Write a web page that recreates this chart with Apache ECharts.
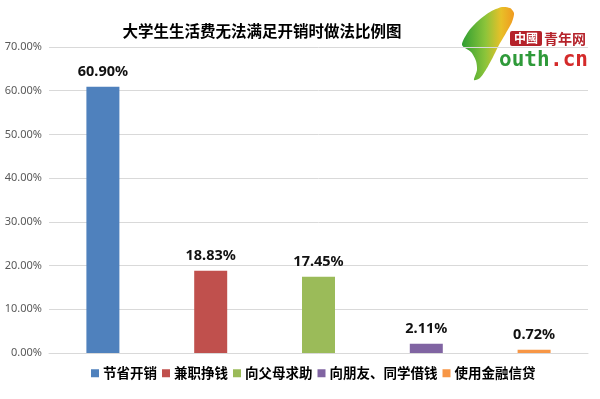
<!DOCTYPE html>
<html>
<head>
<meta charset="utf-8">
<script src="https://cdn.jsdelivr.net/npm/echarts@6/dist/echarts.min.js"></script>
<style>
  html, body { margin: 0; padding: 0; background: #fff; }
  #chart { width: 600px; height: 399px; }
</style>
</head>
<body>
<div id="chart"></div>
<script>
// 数据
var categories = ["节省开销", "兼职挣钱", "向父母求助", "向朋友、同学借钱", "使用金融信贷"];
var values = [60.90, 18.83, 17.45, 2.11, 0.72];
var colors = ["#4f81bd", "#c0504d", "#9bbb59", "#8064a2", "#f79646"];
var yTicks = [0, 10, 20, 30, 40, 50, 60, 70];

var chart = echarts.init(document.getElementById("chart"));
var font = "'Noto Sans', 'Noto Sans CJK SC', sans-serif";

// 每个类别一个系列，这样图例能显示各自颜色
var series = categories.map(function (name, i) {
  return {
    name: name,
    type: "bar",
    barWidth: 33,
    barGap: "-100%",
    itemStyle: { color: colors[i] },
    label: {
      show: true,
      position: "top",
      distance: 8,
      formatter: function (p) { return p.value.toFixed(2) + "%"; },
      color: "#111",
      fontWeight: "bold",
      fontSize: 14.5,
      fontFamily: font
    },
    data: categories.map(function (c, j) { return j === i ? values[i] : "-"; })
  };
});

var options = {
  animation: false,
  title: {
    text: "大学生生活费无法满足开销时做法比例图",
    left: 257,
    textAlign: "center",
    top: 18,
    textStyle: { color: "#000", fontWeight: "bold", fontSize: 15.5, fontFamily: "'Noto Sans CJK SC', sans-serif" }
  },
  grid: { left: 49, right: 12, top: 47, bottom: 46, containLabel: false },
  legend: {
    bottom: 14,
    left: 86,
    icon: "rect",
    itemWidth: 8,
    itemHeight: 8,
    itemGap: 5,
    data: categories,
    textStyle: { color: "#000", fontWeight: "bold", fontSize: 13.5, fontFamily: "'Noto Sans CJK SC', sans-serif", padding: [0, 0, 0, -1] }
  },
  xAxis: {
    type: "category",
    data: categories,
    axisLine: { show: true, lineStyle: { color: "#d9d9d9", width: 1 } },
    axisTick: { show: false },
    axisLabel: { show: false }
  },
  yAxis: {
    type: "value",
    min: yTicks[0],
    max: yTicks[yTicks.length - 1],
    interval: 10,
    axisLine: { show: false },
    axisTick: { show: false },
    axisLabel: {
      margin: 7,
      color: "#595959",
      fontSize: 11,
      fontFamily: font,
      formatter: function (v) { return v.toFixed(2) + "%"; }
    },
    splitLine: { lineStyle: { color: "#d9d9d9" } }
  },
  graphic: [
    {
      // 中国青年网 logo 的银杏叶
      type: "polygon",
      shape: {
        points: [[462, 45], [468, 32], [478, 21], [490, 12], [502, 7], [510, 8], [514, 13],
                 [512, 22], [506, 33], [499, 45], [493, 57], [487, 68], [480, 78], [474, 80],
                 [477, 70], [476, 61], [471, 52]],
        smooth: 0.25
      },
      style: {
        fill: {
          type: "linear", x: 0, y: 0, x2: 1, y2: 0,
          colorStops: [
            { offset: 0, color: "#2f9e32" },
            { offset: 0.45, color: "#8cc43a" },
            { offset: 0.75, color: "#e8c028" },
            { offset: 1, color: "#f09a20" }
          ]
        }
      }
    },
    {
      type: "rect",
      shape: { x: 510, y: 31, width: 32, height: 15, r: 2 },
      style: { fill: "#b5222a" }
    },
    {
      type: "text",
      style: { x: 526, y: 38.5, text: "中國", fill: "#fff", font: "bold 12px 'Noto Sans CJK TC'", textAlign: "center", textVerticalAlign: "middle" }
    },
    {
      type: "text",
      style: { x: 544, y: 38.5, text: "青年网", fill: "#b5222a", font: "bold 14px 'Noto Sans CJK SC'", textAlign: "left", textVerticalAlign: "middle" }
    },
    {
      type: "text",
      style: { x: 499, y: 61, text: "outh", fill: "#2f9a3a", font: "bold 21px 'DejaVu Sans Mono'", textAlign: "left", textVerticalAlign: "middle" }
    },
    {
      type: "text",
      style: { x: 550, y: 61, text: ".cn", fill: "#d42a2a", font: "bold 21px 'DejaVu Sans Mono'", textAlign: "left", textVerticalAlign: "middle" }
    }
  ],
  series: series
};

if (options && typeof options === "object") {
  chart.setOption(options, true);
}
</script>
</body>
</html>
